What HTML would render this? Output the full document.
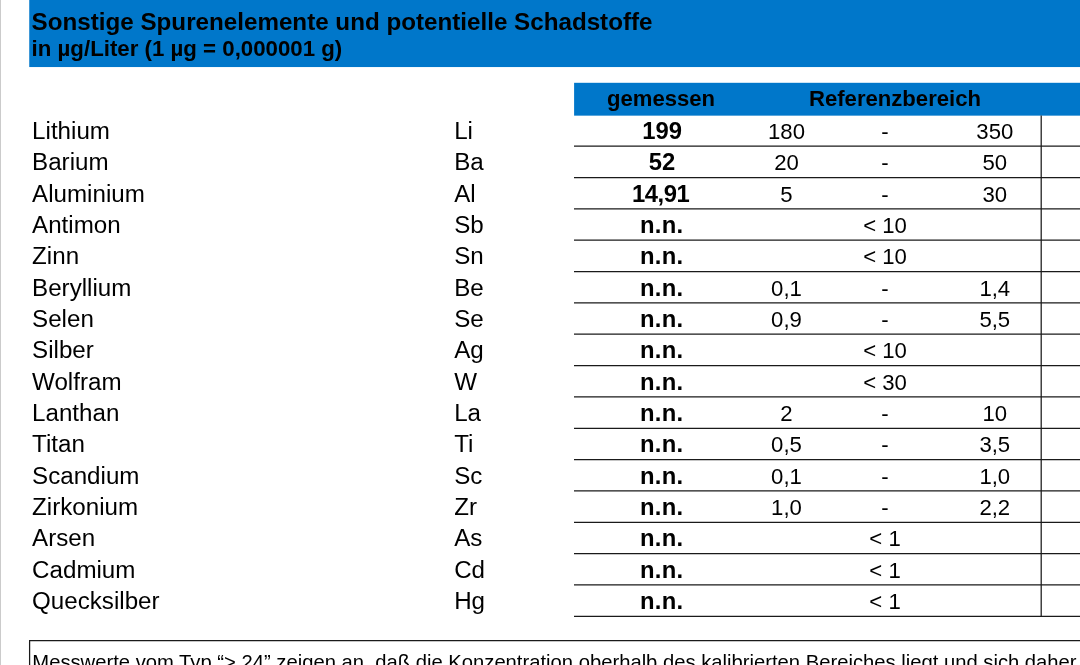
<!DOCTYPE html>
<html lang="de"><head><meta charset="utf-8"><title>Sonstige Spurenelemente</title>
<style>
html,body{margin:0;padding:0;background:#fff;}
body{width:1080px;height:665px;overflow:hidden;position:relative;font-family:"Liberation Sans",sans-serif;color:#000;}
.abs{position:absolute;white-space:nowrap;line-height:1;}
.t{position:absolute;white-space:nowrap;font-size:24.15px;line-height:24px;height:24px;}
.n{position:absolute;white-space:nowrap;font-size:22.15px;line-height:24px;height:24px;text-align:center;}
.b{font-weight:bold;}
</style></head><body>
<div class="abs" style="left:0;top:0;width:1px;height:665px;background:#cbcbcb"></div>
<svg class="abs" style="left:0;top:0" width="1080" height="665" viewBox="0 0 1080 665"><rect x="29.25" y="-1" width="1052" height="68.05" fill="#0077ca"/><rect x="574.1" y="82.8" width="507" height="32.85" fill="#0077ca"/></svg>
<div class="abs b" style="left:31.6px;top:10px;font-size:24.19px;line-height:24px">Sonstige Spurenelemente und potentielle Schadstoffe</div>
<div class="abs b" style="left:31.6px;top:37px;font-size:22.25px;line-height:24px">in µg/Liter (1 µg = 0,000001 g)</div>
<div class="n b" style="left:574px;width:174px;top:87px;font-size:22.08px">gemessen</div>
<div class="n b" style="left:748px;width:294px;top:87px;font-size:22.12px">Referenzbereich</div>

<div class="t" style="left:32.1px;top:119.0px">Lithium</div>
<div class="t" style="left:454.2px;top:119.0px">Li</div>
<div class="n b" style="left:575.1px;width:174px;top:119.0px;font-size:23.8px">199</div>
<div class="n" style="left:736.5px;width:100px;top:120.0px">180</div>
<div class="n" style="left:835px;width:100px;top:120.0px">-</div>
<div class="n" style="left:944.8px;width:100px;top:120.0px">350</div>
<div class="t" style="left:32.1px;top:150.0px">Barium</div>
<div class="t" style="left:454.2px;top:150.0px">Ba</div>
<div class="n b" style="left:575.1px;width:174px;top:150.0px;font-size:23.8px">52</div>
<div class="n" style="left:736.5px;width:100px;top:151.0px">20</div>
<div class="n" style="left:835px;width:100px;top:151.0px">-</div>
<div class="n" style="left:944.8px;width:100px;top:151.0px">50</div>
<div class="t" style="left:32.1px;top:182.0px">Aluminium</div>
<div class="t" style="left:454.2px;top:182.0px">Al</div>
<div class="n b" style="left:573.7px;width:174px;top:182.0px;font-size:23.8px;letter-spacing:-0.45px">14,91</div>
<div class="n" style="left:736.5px;width:100px;top:183.0px">5</div>
<div class="n" style="left:835px;width:100px;top:183.0px">-</div>
<div class="n" style="left:944.8px;width:100px;top:183.0px">30</div>
<div class="t" style="left:32.1px;top:213.0px">Antimon</div>
<div class="t" style="left:454.2px;top:213.0px">Sb</div>
<div class="n b" style="left:574.65px;width:174px;top:213.0px;font-size:23.8px;letter-spacing:0.3px">n.n.</div>
<div class="n" style="left:835px;width:100px;top:214.0px">&lt; 10</div>
<div class="t" style="left:32.1px;top:244.0px">Zinn</div>
<div class="t" style="left:454.2px;top:244.0px">Sn</div>
<div class="n b" style="left:574.65px;width:174px;top:244.0px;font-size:23.8px;letter-spacing:0.3px">n.n.</div>
<div class="n" style="left:835px;width:100px;top:245.0px">&lt; 10</div>
<div class="t" style="left:32.1px;top:276.0px">Beryllium</div>
<div class="t" style="left:454.2px;top:276.0px">Be</div>
<div class="n b" style="left:574.65px;width:174px;top:276.0px;font-size:23.8px;letter-spacing:0.3px">n.n.</div>
<div class="n" style="left:736.5px;width:100px;top:277.0px">0,1</div>
<div class="n" style="left:835px;width:100px;top:277.0px">-</div>
<div class="n" style="left:944.8px;width:100px;top:277.0px">1,4</div>
<div class="t" style="left:32.1px;top:307.0px">Selen</div>
<div class="t" style="left:454.2px;top:307.0px">Se</div>
<div class="n b" style="left:574.65px;width:174px;top:307.0px;font-size:23.8px;letter-spacing:0.3px">n.n.</div>
<div class="n" style="left:736.5px;width:100px;top:308.0px">0,9</div>
<div class="n" style="left:835px;width:100px;top:308.0px">-</div>
<div class="n" style="left:944.8px;width:100px;top:308.0px">5,5</div>
<div class="t" style="left:32.1px;top:338.0px">Silber</div>
<div class="t" style="left:454.2px;top:338.0px">Ag</div>
<div class="n b" style="left:574.65px;width:174px;top:338.0px;font-size:23.8px;letter-spacing:0.3px">n.n.</div>
<div class="n" style="left:835px;width:100px;top:339.0px">&lt; 10</div>
<div class="t" style="left:32.1px;top:370.0px">Wolfram</div>
<div class="t" style="left:454.2px;top:370.0px">W</div>
<div class="n b" style="left:574.65px;width:174px;top:370.0px;font-size:23.8px;letter-spacing:0.3px">n.n.</div>
<div class="n" style="left:835px;width:100px;top:371.0px">&lt; 30</div>
<div class="t" style="left:32.1px;top:401.0px">Lanthan</div>
<div class="t" style="left:454.2px;top:401.0px">La</div>
<div class="n b" style="left:574.65px;width:174px;top:401.0px;font-size:23.8px;letter-spacing:0.3px">n.n.</div>
<div class="n" style="left:736.5px;width:100px;top:402.0px">2</div>
<div class="n" style="left:835px;width:100px;top:402.0px">-</div>
<div class="n" style="left:944.8px;width:100px;top:402.0px">10</div>
<div class="t" style="left:32.1px;top:432.0px">Titan</div>
<div class="t" style="left:454.2px;top:432.0px">Ti</div>
<div class="n b" style="left:574.65px;width:174px;top:432.0px;font-size:23.8px;letter-spacing:0.3px">n.n.</div>
<div class="n" style="left:736.5px;width:100px;top:433.0px">0,5</div>
<div class="n" style="left:835px;width:100px;top:433.0px">-</div>
<div class="n" style="left:944.8px;width:100px;top:433.0px">3,5</div>
<div class="t" style="left:32.1px;top:464.0px">Scandium</div>
<div class="t" style="left:454.2px;top:464.0px">Sc</div>
<div class="n b" style="left:574.65px;width:174px;top:464.0px;font-size:23.8px;letter-spacing:0.3px">n.n.</div>
<div class="n" style="left:736.5px;width:100px;top:465.0px">0,1</div>
<div class="n" style="left:835px;width:100px;top:465.0px">-</div>
<div class="n" style="left:944.8px;width:100px;top:465.0px">1,0</div>
<div class="t" style="left:32.1px;top:495.0px">Zirkonium</div>
<div class="t" style="left:454.2px;top:495.0px">Zr</div>
<div class="n b" style="left:574.65px;width:174px;top:495.0px;font-size:23.8px;letter-spacing:0.3px">n.n.</div>
<div class="n" style="left:736.5px;width:100px;top:496.0px">1,0</div>
<div class="n" style="left:835px;width:100px;top:496.0px">-</div>
<div class="n" style="left:944.8px;width:100px;top:496.0px">2,2</div>
<div class="t" style="left:32.1px;top:526.0px">Arsen</div>
<div class="t" style="left:454.2px;top:526.0px">As</div>
<div class="n b" style="left:574.65px;width:174px;top:526.0px;font-size:23.8px;letter-spacing:0.3px">n.n.</div>
<div class="n" style="left:835px;width:100px;top:527.0px">&lt; 1</div>
<div class="t" style="left:32.1px;top:558.0px">Cadmium</div>
<div class="t" style="left:454.2px;top:558.0px">Cd</div>
<div class="n b" style="left:574.65px;width:174px;top:558.0px;font-size:23.8px;letter-spacing:0.3px">n.n.</div>
<div class="n" style="left:835px;width:100px;top:559.0px">&lt; 1</div>
<div class="t" style="left:32.1px;top:589.0px">Quecksilber</div>
<div class="t" style="left:454.2px;top:589.0px">Hg</div>
<div class="n b" style="left:574.65px;width:174px;top:589.0px;font-size:23.8px;letter-spacing:0.3px">n.n.</div>
<div class="n" style="left:835px;width:100px;top:590.0px">&lt; 1</div>
<svg class="abs" style="left:0;top:0" width="1080" height="665" viewBox="0 0 1080 665" stroke="#1a1a1a" stroke-width="1.25"><line x1="574" x2="1080" y1="146.20" y2="146.20"/><line x1="574" x2="1080" y1="177.54" y2="177.54"/><line x1="574" x2="1080" y1="208.88" y2="208.88"/><line x1="574" x2="1080" y1="240.22" y2="240.22"/><line x1="574" x2="1080" y1="271.56" y2="271.56"/><line x1="574" x2="1080" y1="302.90" y2="302.90"/><line x1="574" x2="1080" y1="334.24" y2="334.24"/><line x1="574" x2="1080" y1="365.58" y2="365.58"/><line x1="574" x2="1080" y1="396.92" y2="396.92"/><line x1="574" x2="1080" y1="428.26" y2="428.26"/><line x1="574" x2="1080" y1="459.60" y2="459.60"/><line x1="574" x2="1080" y1="490.94" y2="490.94"/><line x1="574" x2="1080" y1="522.28" y2="522.28"/><line x1="574" x2="1080" y1="553.62" y2="553.62"/><line x1="574" x2="1080" y1="584.96" y2="584.96"/><line x1="574" x2="1080" y1="616.30" y2="616.30"/><line x1="1041.2" x2="1041.2" y1="115.5" y2="616.90"/><path d="M29.6 670V640.5H1085" fill="none"/></svg>

<div class="abs" style="left:32.3px;top:650px;font-size:20.235px;line-height:24px">Messwerte vom Typ “&gt; 24” zeigen an, daß die Konzentration oberhalb des kalibrierten Bereiches liegt und sich daher</div>
</body></html>
